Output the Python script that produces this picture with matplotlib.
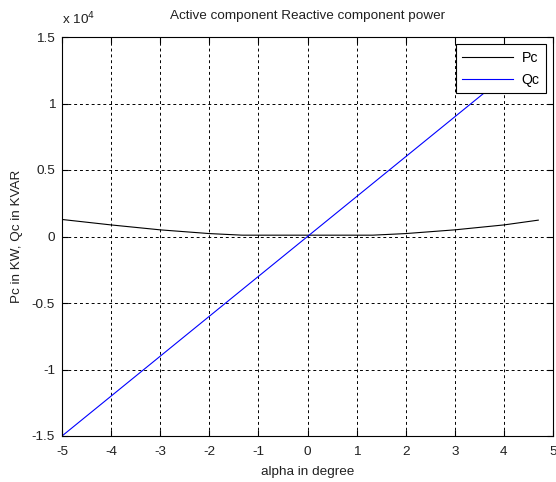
import matplotlib
matplotlib.use("Agg")
import matplotlib.pyplot as plt
from matplotlib.ticker import FuncFormatter

plt.rcParams['font.family'] = ['Liberation Sans', 'DejaVu Sans']
plt.rcParams['axes.unicode_minus'] = False

# Data
alpha_pc = [-5, -4, -3, -2, -1.33, 1.33, 2, 3, 4, 4.7]
pc_vals = [1280, 870, 500, 220, 100, 100, 220, 500, 870, 1230]
alpha_qc = [-5, 0, 4.7]
qc_vals = [-15000, 0, 14100]

xticks = [-5, -4, -3, -2, -1, 0, 1, 2, 3, 4, 5]
yticks = [-15000, -10000, -5000, 0, 5000, 10000, 15000]

FS = 9.7

fig = plt.figure(figsize=(5.56, 4.82), dpi=100)
ax = fig.add_axes([62/556, 1-436/482, (553-62)/556, (436-37)/482])

ax.plot(alpha_pc, pc_vals, color='black', linewidth=0.8, label='Pc')
ax.plot(alpha_qc, qc_vals, color='blue', linewidth=0.8, label='Qc')

ax.set_xlim(-5, 5)
ax.set_ylim(-15000, 15000)
ax.set_xticks(xticks)
ax.set_yticks(yticks)
ax.yaxis.set_major_formatter(FuncFormatter(lambda v, p: '%g' % (v / 1e4)))
ax.tick_params(direction='in', top=True, right=True, labelsize=FS, length=4,
               colors='black', labelcolor='#202020')
ax.tick_params(axis='x', pad=7)
ax.tick_params(axis='y', pad=5)
for s in ax.spines.values():
    s.set_linewidth(0.8)
ax.grid(True, color='black', linestyle=(0, (3, 3)), linewidth=0.7)

ax.set_title('Active component Reactive component power', fontsize=FS, pad=13,
             color='#202020')
ax.set_xlabel('alpha in degree', fontsize=FS, labelpad=6, color='#202020')
ax.set_ylabel('Pc in KW, Qc in KVAR', fontsize=FS, labelpad=6, color='#202020')
ax.text(0.0, 1.025, r'x 10$^{4}$', transform=ax.transAxes, fontsize=FS,
        ha='left', va='bottom', color='#202020')

leg = ax.legend(loc='upper right', bbox_to_anchor=(0.9857, 0.982),
                borderaxespad=0, fontsize=FS + 0.5, fancybox=False,
                framealpha=1, edgecolor='black', handlelength=3.6,
                borderpad=0.45, labelspacing=0.6, handletextpad=0.6)
leg.get_frame().set_linewidth(0.8)

fig.savefig('out.png', dpi=100, facecolor='white')
